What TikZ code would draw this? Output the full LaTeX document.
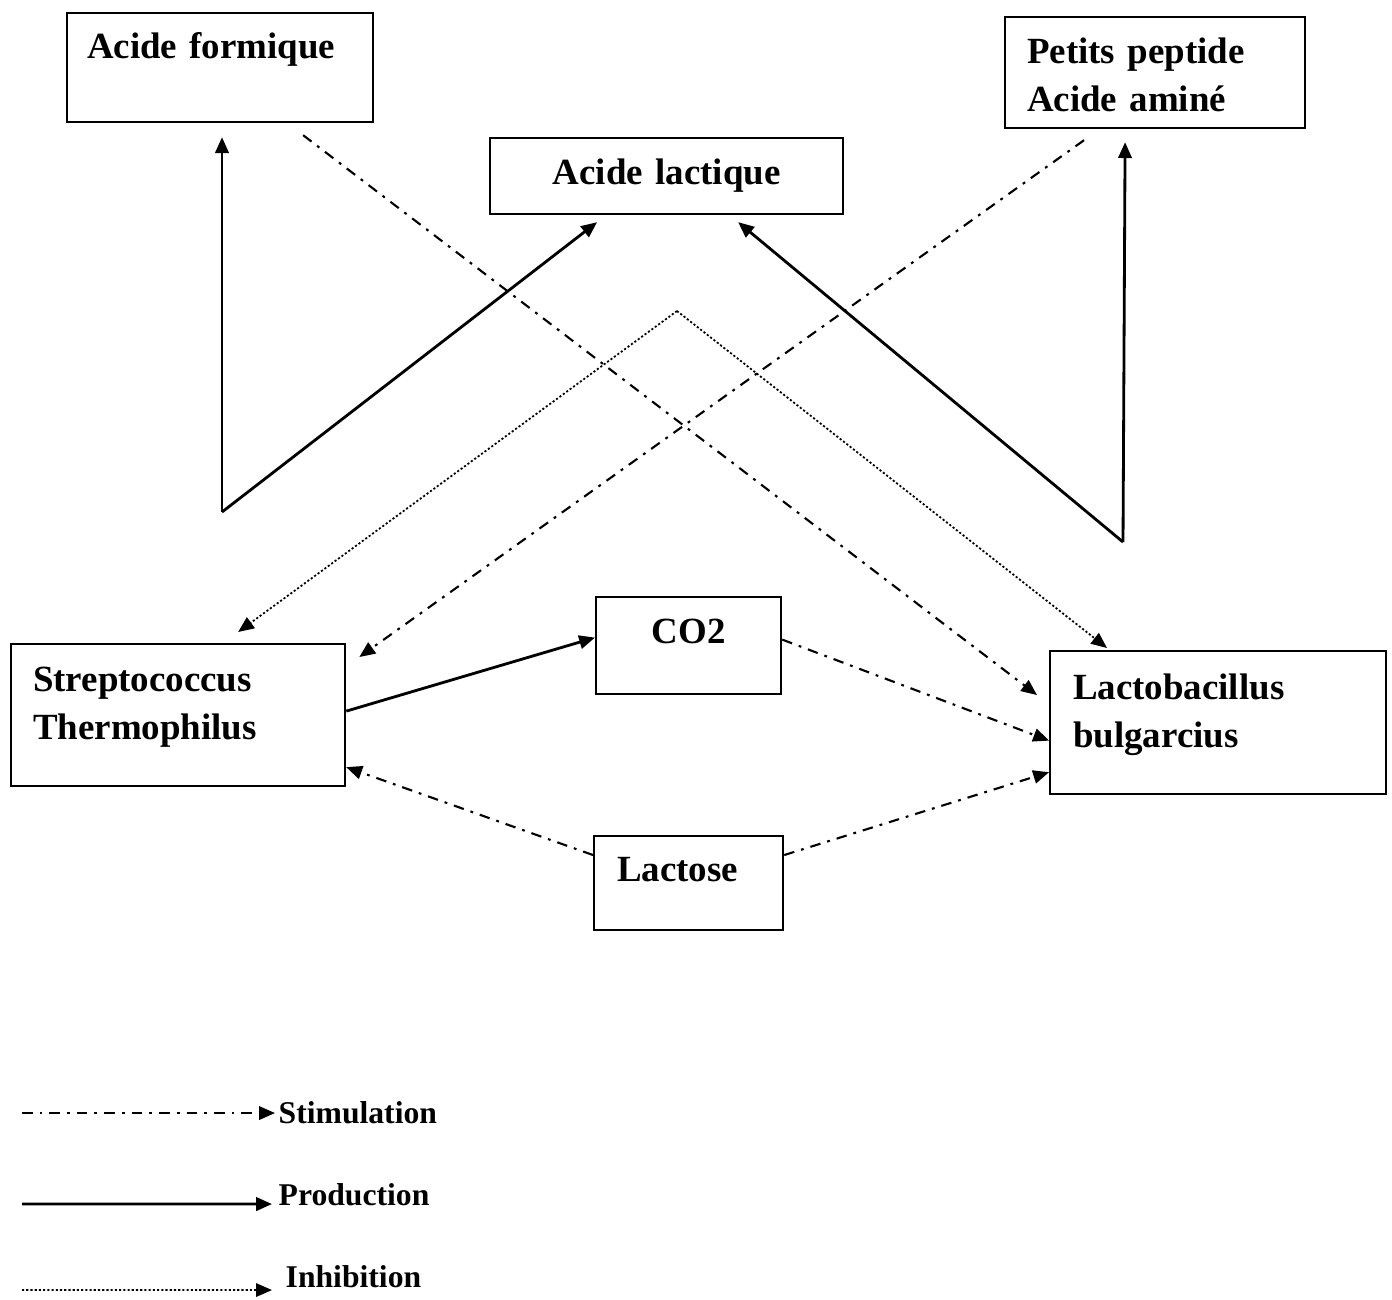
\documentclass[tikz,border=0pt]{standalone}
\usepackage{fontspec}
\setmainfont{Liberation Serif}
\usetikzlibrary{arrows.meta,calc}
\tikzset{
    boite/.style={draw, line width=0.6pt, inner ysep=0pt, anchor=north west,
        font=\bfseries\fontsize{10.5}{13.9}\selectfont},
    production/.style={line width=0.8pt, -{Triangle[length=4.5pt,width=3.8pt]}},
    stimulation/.style={line width=0.6pt, dash pattern=on 3pt off 2pt on 0.8pt off 2pt,
        -{Triangle[length=4.5pt,width=3.8pt]}},
    inhibition/.style={line width=0.5pt, dash pattern=on 0.6pt off 0.6pt,
        -{Triangle[length=4.5pt,width=3.8pt]}},
    legende/.style={inner sep=0pt, anchor=west, font=\bfseries\fontsize{9}{11}\selectfont}
}
\begin{document}
\begin{tikzpicture}[x=0.01cm, y=-0.01cm]
    \useasboundingbox (0,0) rectangle (1392,1299);

    % Boxes
    \node[boite, inner xsep=0.20cm, text width=2.66cm, align=left, text height=0.45cm, text depth=0.64cm]
        (formique) at (66,12) {Acide formique};
    \node[boite, inner xsep=0.22cm, text width=2.56cm, align=left, text height=0.46cm, text depth=0.65cm]
        (peptide) at (1004,16) {Petits peptide\\Acide aminé};
    \node[boite, inner xsep=0pt, text width=3.53cm, align=center, text height=0.46cm, text depth=0.30cm]
        (lactique) at (489,137) {Acide lactique};
    \node[boite, inner xsep=0.22cm, text width=2.90cm, align=left, text height=0.47cm, text depth=0.95cm]
        (strepto) at (10,643) {Streptococcus\\Thermophilus};
    \node[boite, inner xsep=0pt, text width=1.85cm, align=center, text height=0.46cm, text depth=0.51cm]
        (co2) at (595,596) {CO2};
    \node[boite, inner xsep=0.23cm, text width=2.90cm, align=left, text height=0.48cm, text depth=0.95cm]
        (lacto) at (1049,650) {Lactobacillus\\bulgarcius};
    \node[boite, inner xsep=0.23cm, text width=1.43cm, align=left, text height=0.45cm, text depth=0.49cm]
        (lactose) at (593,835) {Lactose};

    % Production
    \coordinate (c1) at (222,512);
    \coordinate (c2) at (1123,542);
    \draw[production] (c1) -- ([yshift=-0.14cm]c1 |- formique.south);
    \draw[production] (c1) -- ([xshift=1.08cm,yshift=-0.07cm]lactique.south west);
    \draw[production] (c2) -- ([xshift=1.21cm,yshift=-0.13cm]peptide.south west);
    \draw[production] (c2) -- ([xshift=2.49cm,yshift=-0.07cm]lactique.south west);
    \draw[production] ([yshift=0.04cm]strepto.east) -- ([yshift=0.08cm]co2.west);

    % Stimulation
    \draw[stimulation] ([xshift=2.37cm,yshift=-0.12cm]formique.south west) -- ([xshift=-0.12cm,yshift=-0.45cm]lacto.north west);
    \draw[stimulation] ([xshift=0.80cm,yshift=-0.11cm]peptide.south west) -- ([xshift=0.13cm,yshift=-0.14cm]strepto.north east);
    \draw[stimulation] ([yshift=0.06cm]co2.east) -- ([yshift=-0.18cm]lacto.west);
    \draw[stimulation] ([yshift=-0.20cm]lactose.north west) -- ([yshift=0.20cm]strepto.south east);
    \draw[stimulation] ([yshift=-0.20cm]lactose.north east) -- ([yshift=0.23cm]lacto.south west);

    % Inhibition
    \coordinate (c3) at (677,311);
    \draw[inhibition] (c3) -- ([xshift=2.28cm,yshift=0.11cm]strepto.north west);
    \draw[inhibition] (c3) -- ([xshift=0.58cm,yshift=0.02cm]lacto.north west);

    % Legend
    \node[legende] (stim) at (278,1113) {Stimulation};
    \node[legende] (prod) at (278,1195) {Production};
    \node[legende] (inhib) at (285,1277) {Inhibition};
    \coordinate (s0) at (22,1113);
    \coordinate (p0) at (22,1204);
    \coordinate (i0) at (22,1290);
    \draw[stimulation] (s0) -- ([xshift=-0.03cm]stim.west);
    \draw[production] (p0) -- ([xshift=-0.06cm,yshift=-0.09cm]prod.west);
    \draw[inhibition] (i0) -- ([xshift=-0.13cm,yshift=-0.13cm]inhib.west);
\end{tikzpicture}
\end{document}
